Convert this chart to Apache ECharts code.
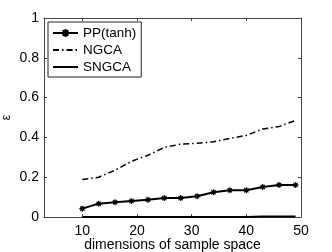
<!DOCTYPE html>
<html><head><meta charset="utf-8">
<script src="https://cdn.jsdelivr.net/npm/echarts@6/dist/echarts.min.js"></script>
<style>html,body{margin:0;padding:0;background:#fff}#c{width:332px;height:252px}</style>
</head><body><div id="c"></div>
<script>
const dims = [10, 13, 16, 19, 22, 25, 28, 31, 34, 37, 40, 43, 46, 49];
const ppTanh = [0.042, 0.067, 0.074, 0.080, 0.087, 0.095, 0.095, 0.104, 0.124, 0.134, 0.134, 0.151, 0.161, 0.161];
const ngca = [0.188, 0.200, 0.235, 0.280, 0.310, 0.350, 0.366, 0.370, 0.378, 0.395, 0.410, 0.442, 0.455, 0.485];
const sngca = [0, 0, 0, 0, 0, 0, 0, 0, 0, 0, 0, 0.002, 0.003, 0.003];
const xTicks = [10, 20, 30, 40, 50];
const seriesNames = ['PP(tanh)', 'NGCA', 'SNGCA'];
const xTitle = 'dimensions of sample space';
const yTitle = 'ε';

const pair = (ys) => dims.map((d, i) => [d, ys[i]]);
const axisCol = '#444';
const font = 'Liberation Sans, Arial, sans-serif';
const chart = echarts.init(document.getElementById('c'), null, {renderer: 'canvas'});
const xBase = {
  type: 'value', min: 3, max: 50,
  axisLine: {show: true, onZero: false, lineStyle: {color: axisCol, width: 1}},
  axisTick: {show: true, inside: true, length: 3, customValues: xTicks, lineStyle: {color: axisCol}},
  splitLine: {show: false}
};
const yBase = {
  type: 'value', min: 0, max: 1, interval: 0.2,
  axisLine: {show: true, onZero: false, lineStyle: {color: axisCol, width: 1}},
  axisTick: {show: true, inside: true, length: 3, lineStyle: {color: axisCol}},
  splitLine: {show: false}
};
chart.setOption({
  animation: false,
  backgroundColor: '#fff',
  grid: {left: 44, top: 18, right: 31, bottom: 35, containLabel: false, outerBoundsMode: 'none'},
  xAxis: [
    Object.assign({}, xBase, {
      position: 'bottom',
      axisLabel: {show: true, customValues: xTicks, color: '#000', fontSize: 14, fontFamily: font, margin: 7},
      name: xTitle, nameLocation: 'middle', nameGap: 21, nameMoveOverlap: false,
      nameTextStyle: {color: '#000', fontSize: 14, fontFamily: font}
    }),
    Object.assign({}, xBase, {position: 'top', axisLabel: {show: false}})
  ],
  yAxis: [
    Object.assign({}, yBase, {
      position: 'left',
      axisLabel: {show: true, color: '#000', fontSize: 14, fontFamily: font, margin: 5,
        formatter: v => String(Math.round(v * 10) / 10)},
      name: yTitle, nameLocation: 'middle', nameGap: 31, nameRotate: 90, nameMoveOverlap: false,
      nameTextStyle: {color: '#000', fontSize: 12, fontFamily: font}
    }),
    Object.assign({}, yBase, {position: 'right', axisLabel: {show: false}})
  ],
  legend: {
    show: true, orient: 'vertical', left: 48, top: 22,
    padding: [4, 5, 3, 4], itemGap: 3, itemWidth: 25, itemHeight: 10,
    borderColor: '#222', borderWidth: 1, borderRadius: 0, backgroundColor: '#fff',
    textStyle: {color: '#000', fontSize: 13.5, lineHeight: 14, fontFamily: font},
    data: [
      {name: seriesNames[0]},
      {name: seriesNames[1], itemStyle: {opacity: 0}},
      {name: seriesNames[2], itemStyle: {opacity: 0}}
    ]
  },
  series: [
    {
      name: seriesNames[0], type: 'line', data: pair(ppTanh),
      symbol: 'path://M0,5L10,5M5,0L5,10M1.5,1.5L8.5,8.5M8.5,1.5L1.5,8.5', symbolSize: 6,
      showSymbol: true,
      lineStyle: {color: '#000', width: 2},
      itemStyle: {color: '#000', borderColor: '#000', borderWidth: 1.2}
    },
    {
      name: seriesNames[1], type: 'line', data: pair(ngca), symbol: 'none',
      lineStyle: {color: '#000', width: 1.5, type: [6, 3, 1.5, 3]},
      itemStyle: {color: '#000'}
    },
    {
      name: seriesNames[2], type: 'line', data: pair(sngca), symbol: 'none',
      lineStyle: {color: '#000', width: 2},
      itemStyle: {color: '#000'}
    }
  ]
});
</script></body></html>
